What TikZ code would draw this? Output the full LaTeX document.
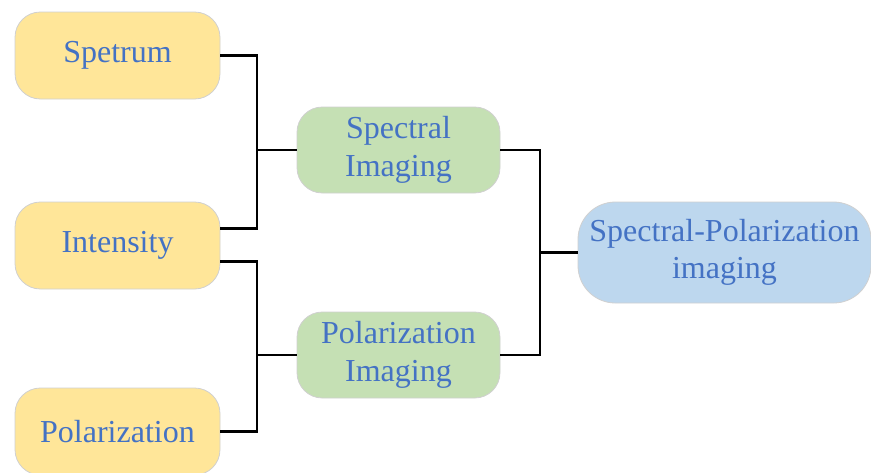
\documentclass[tikz,border=0pt]{standalone}
\usepackage{fontspec}
\newfontfamily\boxfont{LiberationSerif-Regular.ttf}
\usepackage{xcolor}
\usepackage{tikz}
\usetikzlibrary{positioning,calc}
\definecolor{boxyellow}{HTML}{FFE699}
\definecolor{boxgreen}{HTML}{C5E0B4}
\definecolor{boxblue}{HTML}{BDD7EE}
\definecolor{txtblue}{HTML}{4472C4}
\definecolor{edgegray}{HTML}{D0D0D0}
\tikzset{
  box/.style={draw=edgegray, line width=0.6pt, rectangle, rounded corners=19pt, align=center,
    text=txtblue, font=\boxfont\fontsize{24}{28}\selectfont, minimum width=153.75pt, minimum height=65.25pt, inner sep=0pt},
  source/.style={box, fill=boxyellow},
  mode/.style={box, fill=boxgreen, minimum width=152.25pt, minimum height=64.5pt},
  result/.style={box, fill=boxblue, minimum width=219.75pt, minimum height=75.75pt, rounded corners=28pt},
  link/.style={line width=1.6pt, black},
}
\begin{document}
\begin{tikzpicture}[x=0.75pt, y=-0.75pt]
    \useasboundingbox (0,0) rectangle (871,472);
    % input quantities
    \node[source] (spet)  at (117.5,55.5)  {Spetrum};
    \node[source] (inten) at (117.5,245.5) {Intensity};
    \node[source] (pola)  at (117.5,431.5) {Polarization};
    % imaging modes
    \node[mode] (specimg) at (398.5,150) {Spectral\\Imaging};
    \node[mode] (polimg)  at (398.5,355) {Polarization\\Imaging};
    % combined
    \node[result] (spimg) at (724.5,252.5) {Spectral-Polarization\\imaging};

    \coordinate (j1) at (257,150);
    \coordinate (j2) at (257,355);
    \coordinate (j3) at (540,252.5);

    \draw[link] (spet.east) -| (j1) |- ($(inten.east)+(0,-17)$);
    \draw[link] (j1) -- (specimg.west);
    \draw[link] ($(inten.east)+(0,16)$) -| (j2) |- (pola.east);
    \draw[link] (j2) -- (polimg.west);
    \draw[link] (specimg.east) -| (j3) |- (polimg.east);
    \draw[link] (j3) -- (spimg.west);

\end{tikzpicture}
\end{document}
